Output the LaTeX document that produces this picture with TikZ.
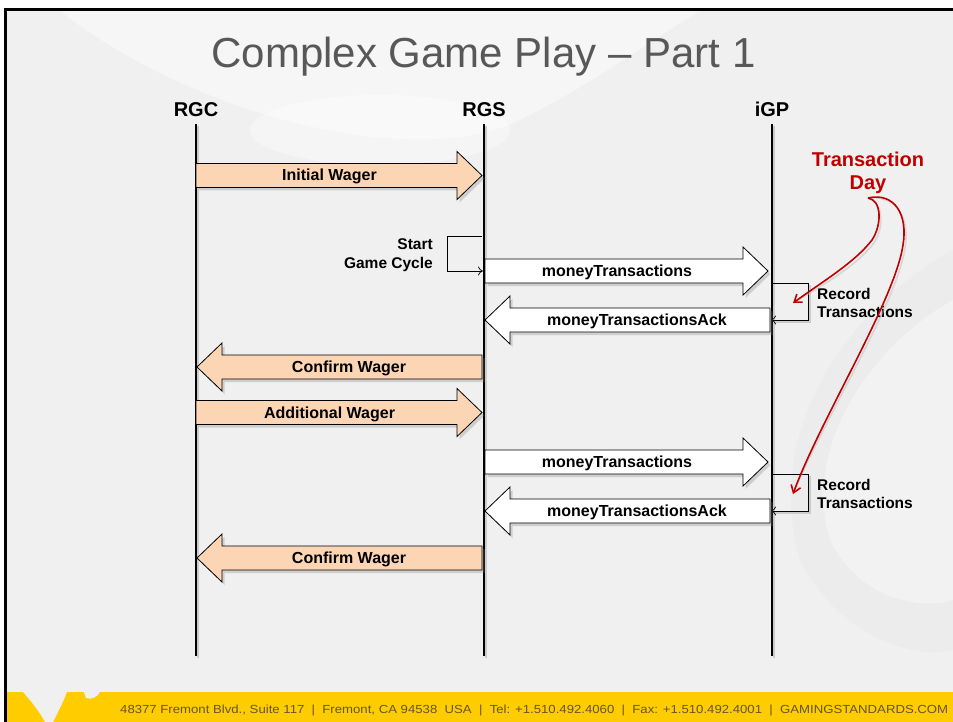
\documentclass[tikz,border=0pt]{standalone}
\usepackage{fontspec}
\usepackage{graphicx}
\setmainfont{Liberation Sans}
\usetikzlibrary{shadows,arrows.meta,calc}
\definecolor{peach}{RGB}{252,214,180}
\definecolor{bgc}{RGB}{240,240,240}
\definecolor{dred}{RGB}{192,0,0}
\definecolor{gsa}{RGB}{255,204,0}
\definecolor{footc}{RGB}{100,85,40}
\definecolor{titlegray}{RGB}{88,88,88}
\newcommand{\rblock}[5]{% x1, xtip, yc, fill, label
  \draw[blockarr,fill=#4] (#1,#3-12) -- ({#2-25},#3-12) -- ({#2-25},#3-24) -- (#2,#3)
     -- ({#2-25},#3+24) -- ({#2-25},#3+12) -- (#1,#3+12) -- cycle;
  \node[lbl] at ({(#1+#2-25)/2+3},#3+5.5) {#5};}
\newcommand{\lblock}[5]{% x1 (tail), xtip, yc, fill, label
  \draw[blockarr,fill=#4] (#1,#3-12) -- ({#2+25},#3-12) -- ({#2+25},#3-24) -- (#2,#3)
     -- ({#2+25},#3+24) -- ({#2+25},#3+12) -- (#1,#3+12) -- cycle;
  \node[lbl] at ({(#1+#2+25)/2-3},#3+5.5) {#5};}
\begin{document}
\begin{tikzpicture}[x=1pt,y=-1pt,
  lbl/.style={font=\fontsize{16}{18}\selectfont\bfseries, anchor=base, inner sep=0pt},
  hdr/.style={font=\fontsize{20}{24}\selectfont\bfseries, anchor=base, inner sep=0pt},
  blockarr/.style={draw=black, line width=0.8pt, drop shadow={shadow xshift=2.5pt, shadow yshift=-3pt, opacity=0.3}},
  life/.style={line width=1.6pt},
  loopline/.style={line width=0.7pt, -{To[length=5pt,width=9pt]}},
  redarr/.style={dred, line width=1.6pt, -{Straight Barb[length=7pt,width=10pt]}},
  note/.style={font=\fontsize{15.5}{18}\selectfont\bfseries, inner sep=0pt}]
% page and background
\fill[white] (0,0) rectangle (953,722);
\useasboundingbox (0,0) rectangle (953,722);
\fill[bgc] (7,11) rectangle (953,722);
\fill[white,opacity=0.45] (60,11) .. controls (200,120) and (420,170) .. (520,120) .. controls (600,80) and (650,40) .. (700,11) -- cycle;
\fill[white,opacity=0.35] (380,130) ellipse [x radius=130, y radius=35];
\fill[gray!25,opacity=0.18] (953,250) .. controls (860,300) and (760,420) .. (800,560) .. controls (840,640) and (920,660) .. (953,650) -- cycle;
\fill[white,opacity=0.35] (953,300) .. controls (880,340) and (800,440) .. (830,540) .. controls (860,600) and (920,610) .. (953,600) -- cycle;
% borders
\fill[black] (4,8) rectangle (953,11);
\fill[black] (4,8) rectangle (7,722);
% footer
\fill[gsa] (7,692) rectangle (953,722);
\fill[bgc] (23,692) -- (67,692) .. controls (64,700) and (60,708) .. (56,716) -- (53,722) -- (45,722) .. controls (40,712) and (30,700) .. cycle;
\fill[gsa] (75,701) circle [radius=8];
\fill[bgc] (84,692) -- (100,692) .. controls (97,697) and (92,700) .. (86,698) -- cycle;
\node[anchor=base west, text=footc, inner sep=0pt] (footer) at (120,713)
  {\resizebox{828pt}{8.5pt}{48377 Fremont Blvd., Suite 117 \ | \ Fremont, CA 94538 \ USA \ | \ Tel: +1.510.492.4060 \ | \ Fax: +1.510.492.4001 \ | \ GAMINGSTANDARDS.COM}};
% title
\node[anchor=base, font=\fontsize{42}{48}\selectfont, text=titlegray, inner sep=0pt] (title) at (483.5,68) {Complex Game Play – Part 1};
% lifelines
\node[hdr] (rgc) at (196,117) {RGC};
\node[hdr] (rgs) at (484,117) {RGS};
\node[hdr] (igp) at (772,117) {iGP};
\coordinate (rgcT) at (196,124); \coordinate (rgcB) at (196,656);
\coordinate (rgsT) at (484,124); \coordinate (rgsB) at (484,656);
\coordinate (igpT) at (772,124); \coordinate (igpB) at (772,656);
\foreach \a in {rgc,rgs,igp}{
  \draw[life, gray!40, line width=2pt] ($(\a T)+(2,2)$) -- ($(\a B)+(2,2)$);
  \draw[life] (\a T) -- (\a B);}
% messages
\rblock{196}{482}{175.5}{peach}{Initial Wager}
% start game cycle loop
\coordinate (sg1) at (482,236); \coordinate (sg2) at (447,236);
\coordinate (sg3) at (447,271); \coordinate (sg4) at (483,271);
\draw[loopline] (sg1) -- (sg2) -- (sg3) -- (sg4);
\node[note, align=right, anchor=base east] (sgc) at (433,268) {Start\\Game Cycle};
\rblock{485}{768}{271}{white}{moneyTransactions}
% record transactions loop 1
\coordinate (r1a) at (773,283); \coordinate (r1b) at (808,283);
\coordinate (r1c) at (808,320); \coordinate (r1d) at (771,320);
\draw[gray!40, line width=1.5pt] ($(r1b)+(2,2)$) -- ($(r1c)+(2,2)$) -- ($(r1d)+(2,2)$);
\draw[loopline] (r1a) -- (r1b) -- (r1c) -- (r1d);
\node[note, align=left, anchor=base west] (rt1) at (817,317) {Record\\Transactions};
\lblock{770}{485}{320}{white}{moneyTransactionsAck}
\lblock{482}{197}{367}{peach}{Confirm Wager}
\rblock{196}{482}{412.5}{peach}{Additional Wager}
\rblock{485}{768}{462}{white}{moneyTransactions}
% record transactions loop 2
\coordinate (r2a) at (773,474); \coordinate (r2b) at (808,474);
\coordinate (r2c) at (808,511); \coordinate (r2d) at (771,511);
\draw[gray!40, line width=1.5pt] ($(r2b)+(2,2)$) -- ($(r2c)+(2,2)$) -- ($(r2d)+(2,2)$);
\draw[loopline] (r2a) -- (r2b) -- (r2c) -- (r2d);
\node[note, align=left, anchor=base west] (rt2) at (817,508) {Record\\Transactions};
\lblock{770}{485}{511}{white}{moneyTransactionsAck}
\lblock{482}{197}{558}{peach}{Confirm Wager}
% transaction day
\node[font=\fontsize{20}{24}\selectfont\bfseries, text=dred, align=center, anchor=base, inner sep=0pt] (tday) at (868,190) {Transaction\\Day};
\coordinate (td) at (868,198);
\coordinate (h1) at (793,303);
\coordinate (h2) at (793,494);
\draw[gray!50, line width=1.6pt, opacity=0.5, shift={(2,3)}] (td) .. controls (882,200) and (882,225) .. (872,240) .. controls (855,262) and (825,280) .. (h1);
\draw[gray!50, line width=1.6pt, opacity=0.5, shift={(2,3)}] (td) .. controls (895,192) and (908,215) .. (903,245) .. controls (895,300) and (820,420) .. (h2);
\draw[redarr] (td) .. controls (882,200) and (882,225) .. (872,240) .. controls (855,262) and (825,280) .. (h1);
\draw[redarr] (td) .. controls (895,192) and (908,215) .. (903,245) .. controls (895,300) and (820,420) .. (h2);
\end{tikzpicture}
\end{document}
